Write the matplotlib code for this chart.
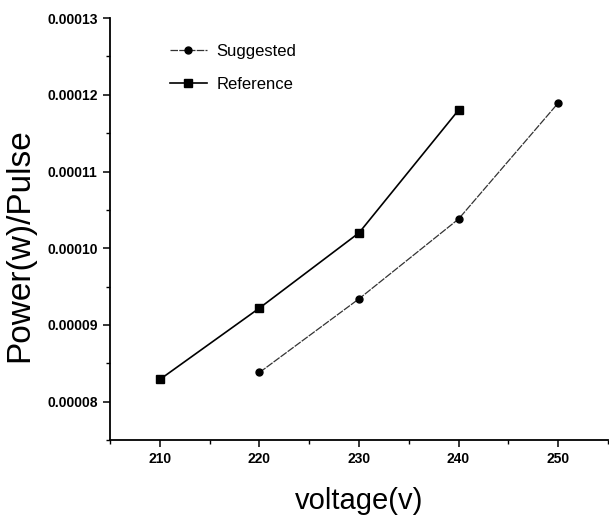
import matplotlib.pyplot as plt
from matplotlib.ticker import MultipleLocator, FormatStrFormatter

plt.rcParams['font.family'] = ['Liberation Sans', 'DejaVu Sans']

# data
ref_v = [210, 220, 230, 240]
ref_p = [0.0000829, 0.0000922, 0.0001020, 0.0001180]
sug_v = [220, 230, 240, 250]
sug_p = [0.0000838, 0.0000934, 0.0001038, 0.0001189]

fig = plt.figure(figsize=(6.09, 5.17), dpi=100)
ax = fig.add_axes([0.181, 0.149, 0.817, 0.816])

ax.plot(sug_v, sug_p, color='#333333', lw=0.9, ls=(0, (6, 1)), marker='o',
        ms=5, mfc='black', mec='black', label='Suggested')
ax.plot(ref_v, ref_p, color='black', lw=1.2, marker='s',
        ms=5.5, mfc='black', mec='black', label='Reference')

ax.set_xlim(205, 255)
ax.set_ylim(0.000075, 0.00013)
ax.xaxis.set_major_locator(MultipleLocator(10))
ax.xaxis.set_minor_locator(MultipleLocator(5))
ax.yaxis.set_major_locator(MultipleLocator(0.00001))
ax.yaxis.set_minor_locator(MultipleLocator(0.000005))
ax.yaxis.set_major_formatter(FormatStrFormatter('%.5f'))

for s in ['top', 'right']:
    ax.spines[s].set_visible(False)
for s in ['left', 'bottom']:
    ax.spines[s].set_linewidth(1.3)

ax.tick_params(which='major', direction='out', length=5, width=1.1,
               labelsize=10, pad=4)
ax.tick_params(which='minor', direction='out', length=3, width=1.0)
for lab in ax.get_xticklabels() + ax.get_yticklabels():
    lab.set_fontweight('bold')

ax.set_xlabel('voltage(v)', fontsize=21, labelpad=15)
ax.set_ylabel('Power(w)/Pulse', fontsize=24)
ax.yaxis.set_label_coords(-0.151, 0.462)

ax.legend(loc='upper left', bbox_to_anchor=(0.09, 0.975), frameon=False,
          fontsize=12, handlelength=2.2, labelspacing=1.1, handletextpad=0.6)

fig.savefig('out.png', dpi=100)
